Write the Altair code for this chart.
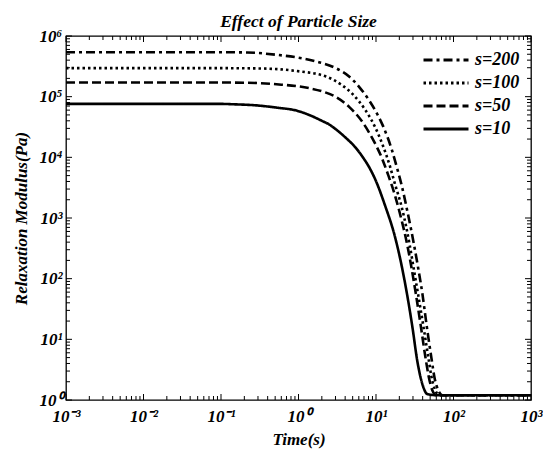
import altair as alt
import pandas as pd

# ---- data ----
series_names = ["s=200", "s=100", "s=50", "s=10"]
dash_patterns = [[9, 4, 3, 4], [2.5, 3], [9, 4], [1, 0]]

t_s200 = [0.001, 0.01, 0.1, 0.22, 0.52, 0.94, 1.69, 3.03, 4.5, 6.2, 8.0, 10.7, 12.3, 16.1, 18.6, 21.5, 25.7, 30.5, 35, 39.8, 45, 51.8, 57, 63.5, 72, 1000]
G_s200 = [5.4e5, 5.4e5, 5.4e5, 5.35e5, 4.9e5, 4.45e5, 3.8e5, 2.95e5, 2.15e5, 1.4e5, 9.0e4, 4.8e4, 3.3e4, 1.3e4, 6.8e3, 3.4e3, 1.2e3, 4.0e2, 1.5e2, 55, 17, 5.0, 2.3, 1.45, 1.2, 1.2]

t_s100 = [0.001, 0.01, 0.1, 0.3, 0.94, 2.26, 3.5, 5.0, 7.3, 9.8, 12.3, 15.1, 17.5, 21.5, 24.5, 27.2, 31, 35.4, 41, 47.4, 52, 58.2, 65, 1000]
G_s100 = [2.95e5, 2.95e5, 2.95e5, 2.92e5, 2.65e5, 2.15e5, 1.6e5, 1.1e5, 6.0e4, 3.1e4, 1.55e4, 7.2e3, 3.7e3, 1.5e3, 7.2e2, 3.6e2, 1.35e2, 50, 16, 5.0, 2.4, 1.45, 1.2, 1.2]

t_s50 = [0.001, 0.01, 0.1, 0.2, 0.52, 1.38, 2.2, 3.03, 4.5, 6.7, 8.8, 12.0, 14.3, 17.5, 21.5, 24.9, 28.5, 32.4, 37.5, 43.5, 48, 53.3, 60, 1000]
G_s50 = [1.71e5, 1.71e5, 1.71e5, 1.7e5, 1.6e5, 1.38e5, 1.18e5, 9.9e4, 6.8e4, 3.8e4, 2.15e4, 9.5e3, 5.2e3, 2.4e3, 9.0e2, 4.0e2, 1.6e2, 60, 18, 5.0, 2.4, 1.45, 1.2, 1.2]

t_s10 = [0.001, 0.01, 0.1, 0.14, 0.3, 0.52, 0.94, 1.37, 2.0, 2.47, 3.03, 4.07, 5.45, 6.7, 8.2, 9.8, 13.1, 17.5, 21.5, 25, 29.7, 34, 39.8, 46, 60, 1000]
G_s10 = [7.6e4, 7.6e4, 7.6e4, 7.5e4, 7.15e4, 6.6e4, 5.9e4, 5.0e4, 4.0e4, 3.5e4, 2.9e4, 2.1e4, 1.45e4, 1.02e4, 6.8e3, 4.3e3, 1.6e3, 5.0e2, 1.6e2, 58, 15, 4.5, 1.8, 1.25, 1.2, 1.2]

x_major = [1e-3, 1e-2, 1e-1, 1, 10, 100, 1000]
x_tick_labels = ["10⁻³", "10⁻²", "10⁻¹", "10⁰", "10¹", "10²", "10³"]
y_major = [1, 10, 100, 1e3, 1e4, 1e5, 1e6]
y_tick_labels = ["10⁰", "10¹", "10²", "10³", "10⁴", "10⁵", "10⁶"]
minor_multipliers = [2, 3, 4, 5, 6, 7, 8, 9]

# ---- tables ----
rows = []
for name, ts, gs in [("s=200", t_s200, G_s200), ("s=100", t_s100, G_s100),
                     ("s=50", t_s50, G_s50), ("s=10", t_s10, G_s10)]:
    for t, g in zip(ts, gs):
        rows.append({"series": name, "t": t, "G": g})
df = pd.DataFrame(rows)

x_minor = [m * x for x in x_major[:-1] for m in minor_multipliers]
y_minor = [m * y for y in y_major[:-1] for m in minor_multipliers]
xmaj_df = pd.DataFrame({"t": x_major})
xmin_df = pd.DataFrame({"t": x_minor})
ymaj_df = pd.DataFrame({"G": y_major})
ymin_df = pd.DataFrame({"G": y_minor})

W, H = 465, 364
FONT = "Liberation Serif"
xscale = alt.Scale(type="log", domain=[1e-3, 1e3], nice=False)
yscale = alt.Scale(type="log", domain=[1, 1e6], nice=False)

x_expr = "[" + ",".join("'%s'" % s for s in x_tick_labels) + "][round(log(datum.value)/LN10)+3]"
y_expr = "[" + ",".join("'%s'" % s for s in y_tick_labels) + "][round(log(datum.value)/LN10)]"

text_style = dict(labelFont=FONT, labelFontSize=17, labelFontWeight="bold",
                  labelFontStyle="italic", labelColor="black",
                  titleFont=FONT, titleFontSize=17, titleFontWeight="bold",
                  titleFontStyle="italic", titleColor="black")

lines = alt.Chart(df).mark_line(strokeWidth=2.6, color="black", interpolate="monotone").encode(
    x=alt.X("t:Q", scale=xscale,
            axis=alt.Axis(values=x_major, labelExpr=x_expr, title="Time(s)",
                          ticks=False, domain=False, grid=False, labelPadding=8,
                          labelFlush=False, titleY=31, titleBaseline="top", **text_style)),
    y=alt.Y("G:Q", scale=yscale,
            axis=alt.Axis(values=y_major, labelExpr=y_expr, title="Relaxation Modulus(Pa)",
                          ticks=False, domain=False, grid=False, labelPadding=4,
                          labelFlush=False, titleX=-36, titleY=H / 2, titleAngle=-90,
                          titleBaseline="bottom", titleAnchor="middle", **text_style)),
    strokeDash=alt.StrokeDash(
        "series:N",
        scale=alt.Scale(domain=series_names, range=dash_patterns),
        legend=alt.Legend(title=None, orient="none", direction="vertical",
                          legendX=371, legendY=15, padding=0,
                          symbolType="M-3,0L3,0", symbolSize=225, symbolStrokeWidth=3,
                          symbolStrokeColor="black", labelFont=FONT, labelFontSize=18,
                          labelFontWeight="bold", labelFontStyle="italic",
                          labelColor="black", labelOffset=20, rowPadding=5)),
)


def xticks(data, length, top):
    enc = dict(x=alt.X("t:Q", scale=xscale))
    if top:
        enc.update(y=alt.value(0), y2=alt.value(length))
    else:
        enc.update(y=alt.value(H), y2=alt.value(H - length))
    return alt.Chart(data).mark_rule(color="black", strokeWidth=1).encode(**enc)


def yticks(data, length, right):
    enc = dict(y=alt.Y("G:Q", scale=yscale))
    if right:
        enc.update(x=alt.value(W), x2=alt.value(W - length))
    else:
        enc.update(x=alt.value(0), x2=alt.value(length))
    return alt.Chart(data).mark_rule(color="black", strokeWidth=1).encode(**enc)


tick_layers = [
    xticks(xmaj_df, 6, False), xticks(xmin_df, 4, False),
    xticks(xmaj_df, 6, True), xticks(xmin_df, 4, True),
    yticks(ymaj_df, 6, False), yticks(ymin_df, 4, False),
    yticks(ymaj_df, 6, True), yticks(ymin_df, 4, True),
]

chart = alt.layer(lines, *tick_layers).properties(
    width=W, height=H,
    title=alt.TitleParams("Effect of Particle Size", font=FONT, fontSize=17.5,
                          fontWeight="bold", fontStyle="italic", anchor="middle",
                          frame="group", offset=-3, color="black"),
    autosize=alt.AutoSizeParams(type="none"),
    padding={"left": 58, "top": 28, "right": 12, "bottom": 49},
).configure_view(stroke="black", strokeWidth=1.3)

chart.save("out.html", embed_options={"renderer": "svg", "actions": False})
